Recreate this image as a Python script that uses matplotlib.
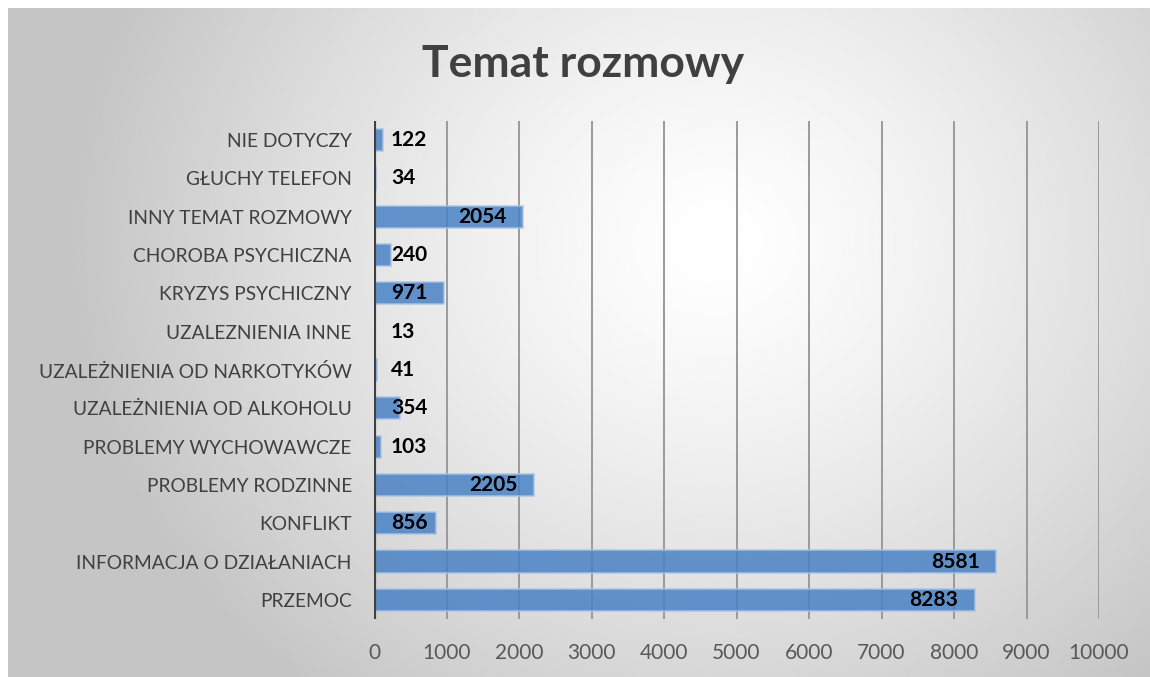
import numpy as np
import matplotlib
matplotlib.use("Agg")
import matplotlib.pyplot as plt

categories = ["PRZEMOC", "INFORMACJA O DZIAŁANIACH", "KONFLIKT", "PROBLEMY RODZINNE",
              "PROBLEMY WYCHOWAWCZE", "UZALEŻNIENIA OD ALKOHOLU", "UZALEŻNIENIA OD NARKOTYKÓW",
              "UZALEZNIENIA INNE", "KRYZYS PSYCHICZNY", "CHOROBA PSYCHICZNA",
              "INNY TEMAT ROZMOWY", "GŁUCHY TELEFON", "NIE DOTYCZY"]
values = [8283, 8581, 856, 2205, 103, 354, 41, 13, 971, 240, 2054, 34, 122]
xticks = [0, 1000, 2000, 3000, 4000, 5000, 6000, 7000, 8000, 9000, 10000]

plt.rcParams['font.family'] = ['Lato', 'DejaVu Sans']

W, H = 1150, 677
fig = plt.figure(figsize=(W / 100, H / 100), dpi=100)
fig.patch.set_facecolor("white")

# radial gradient background
bg = fig.add_axes([8 / W, 0, 1 - 8 / W, 1 - 8 / H])
bg.set_axis_off()
yy, xx = np.mgrid[0:1:300j, 0:1:500j]
r = np.sqrt(((xx - 0.62) * 1.15) ** 2 + ((yy - 0.35) * 0.75) ** 2)
shade = np.clip(1.0 - 0.40 * r ** 1.3, 0.77, 1.0)
bg.imshow(shade, cmap="gray", vmin=0, vmax=1, aspect="auto", extent=(0, 1, 1, 0))

ax = fig.add_axes([374 / W, 1 - 619 / H, (1099 - 374) / W, (619 - 121) / H])
ax.patch.set_alpha(0)
y = np.arange(len(categories))
ax.barh(y, values, height=0.58, color="#4a82c5", alpha=0.85,
        edgecolor="#a9c4e6", linewidth=1.2, zorder=3)
ax.set_xlim(0, 10000)
ax.set_ylim(-0.5, len(categories) - 0.5)
ax.set_xticks(xticks)
ax.set_xticklabels([str(t) for t in xticks], fontsize=15, color="#595959")
ax.set_yticks(y)
ax.set_yticklabels(categories, fontsize=13.8, color="#404040")
ax.tick_params(axis="both", length=0)
ax.tick_params(axis="x", pad=17)
ax.tick_params(axis="y", pad=16)
ax.grid(axis="x", color="#9a9a9a", linewidth=1.4, zorder=0)
ax.axvline(0, color="#404040", linewidth=3, zorder=4)
for s in ax.spines.values():
    s.set_visible(False)

fig.text(583 / W, 1 - 64 / H, "Temat rozmowy", ha="center", va="center",
         fontsize=32, fontweight="bold", color="#404040")

# value labels: inside end, pushed right if too close to the axis
labels = []
for yi, v in zip(y, values):
    t = ax.annotate(str(v), xy=(v, yi), xytext=(-12, 0), textcoords="offset points",
                    ha="right", va="center", fontsize=15, fontweight="bold",
                    color="black", zorder=5)
    labels.append(t)
fig.canvas.draw()
rend = fig.canvas.get_renderer()
x0 = ax.transData.transform((0, 0))[0]
for t in labels:
    bb = t.get_window_extent(rend)
    if bb.x0 < x0 + 17:
        shift = (x0 + 17 - bb.x0) * 72 / fig.dpi
        ox, oy = t.xyann
        t.xyann = (ox + shift, oy)

fig.savefig("out.png", dpi=100)
